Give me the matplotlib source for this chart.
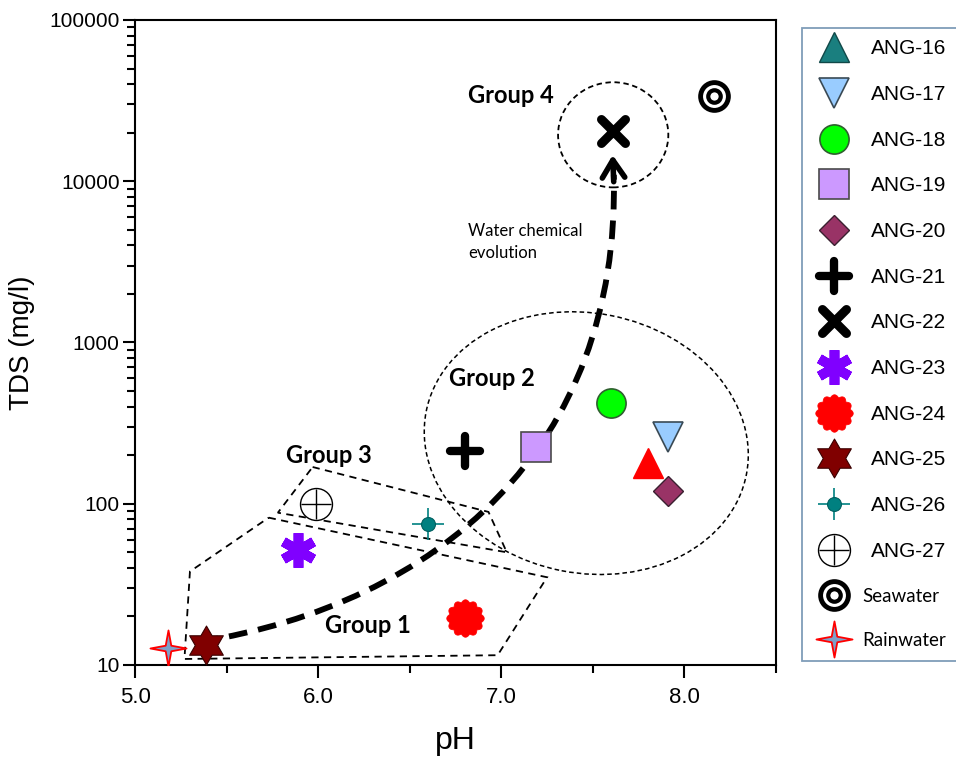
import numpy as np
import matplotlib
matplotlib.use("Agg")
import matplotlib.pyplot as plt
from matplotlib.lines import Line2D
from matplotlib.markers import MarkerStyle
from matplotlib.patches import Ellipse, Polygon, PathPatch
from matplotlib.path import Path
from matplotlib.ticker import FixedLocator, FuncFormatter, LogLocator, NullFormatter

plt.rcParams["font.family"] = ["Liberation Sans", "DejaVu Sans"]

# samples
samples = ["ANG-16", "ANG-17", "ANG-18", "ANG-19", "ANG-20", "ANG-21", "ANG-22",
           "ANG-23", "ANG-24", "ANG-25", "ANG-26", "ANG-27", "Seawater", "Rainwater"]
ph = [7.80, 7.91, 7.60, 7.19, 7.91, 6.80, 7.61, 5.89, 6.80, 5.39, 6.60, 5.99, 8.16, 5.18]
tds = [180, 260, 420, 225, 120, 212, 20400, 52, 19.5, 13.3, 75, 100, 34000, 12.7]

# group outlines (pH, TDS)
group1_ph = [5.73, 7.25, 6.98, 5.27, 5.30]
group1_tds = [82, 35, 11.5, 10.9, 38]
group3_ph = [5.97, 6.93, 7.03, 5.78]
group3_tds = [169, 89, 50, 88]

group_labels = ["Group 4", "Group 2", "Group 3", "Group 1"]
group_label_ph = [7.05, 6.95, 6.06, 6.27]
group_label_tds = [34000, 600, 198, 17.5]

# custom marker shapes
star6 = Path.unit_regular_star(6, innerCircle=0.577)
star4 = Path.unit_regular_star(4, innerCircle=0.22)
theta = np.linspace(0, 2 * np.pi, 241)
rad = 0.86 + 0.14 * np.abs(np.cos(6 * theta))
flower = Path(np.column_stack([rad * np.cos(theta), rad * np.sin(theta)]), closed=True)
plus_round = MarkerStyle("+", capstyle="round")
x_round = MarkerStyle("x", capstyle="round")
aster = MarkerStyle((6, 2, 0), capstyle="round")

styles = [
    [dict(marker="^", ms=22, mfc="#FF0000", mec="#FF0000", mew=1)],
    [dict(marker="v", ms=22, mfc="#99CCFF", mec="#3A4A55", mew=1.2)],
    [dict(marker="o", ms=21, mfc="#00FF00", mec="#2F5F2F", mew=1.2)],
    [dict(marker="s", ms=21, mfc="#CC99FF", mec="#4A4A4A", mew=1.2)],
    [dict(marker="D", ms=15, mfc="#993366", mec="#3A2030", mew=1)],
    [dict(marker=plus_round, ms=22, mec="black", mew=6)],
    [dict(marker=x_round, ms=17, mec="black", mew=6.5)],
    [dict(marker=aster, ms=25, mec="#8000FF", mew=7)],
    [dict(marker=flower, ms=27, mfc="#FF0000", mec="#FF0000", mew=0.5)],
    [dict(marker=star6, ms=28, mfc="#800000", mec="#3A0000", mew=0.8)],
    [dict(marker="+", ms=23, mec="#008080", mew=1.2),
     dict(marker="o", ms=10, mfc="#008080", mec="#006060", mew=0.8)],
    [dict(marker="o", ms=23, mfc="white", mec="black", mew=1),
     dict(marker="+", ms=22, mec="black", mew=1)],
    [dict(marker="o", ms=20, mfc="none", mec="black", mew=3.5),
     dict(marker="o", ms=9, mfc="none", mec="black", mew=3)],
    [dict(marker=star4, ms=26, mfc="#7F9FC8", mec="#FF0000", mew=1.3)],
]

fig = plt.figure(figsize=(9.56, 7.57), dpi=100)
ax = fig.add_axes([135 / 956, 92 / 757, 641 / 956, 645 / 757])

# group outlines
ax.add_patch(Polygon(np.column_stack([group1_ph, group1_tds]), closed=True, fill=False,
                     ec="black", lw=1.3, ls=(0, (4, 3))))
ax.add_patch(Polygon(np.column_stack([group3_ph, group3_tds]), closed=True, fill=False,
                     ec="black", lw=1.3, ls=(0, (4, 3))))
ax.add_patch(Ellipse((0.704, 0.344), 0.509, 0.403, angle=-11, transform=ax.transAxes,
                     fill=False, ec="black", lw=1.1, ls=(0, (3, 2))))
ax.add_patch(Ellipse((0.746, 0.822), 0.172, 0.163, transform=ax.transAxes,
                     fill=False, ec="black", lw=1.3, ls=(0, (3, 2))))

# evolution arrow
curve = Path([(0.101, 0.036), (0.470, 0.095), (0.757, 0.334), (0.747, 0.760)],
             [Path.MOVETO, Path.CURVE4, Path.CURVE4, Path.CURVE4])
ax.add_patch(PathPatch(curve, transform=ax.transAxes, fill=False, ec="black", lw=4.2,
                       ls=(0, (3.2, 1.9)), zorder=4))
ax.annotate("", xy=(0.745, 0.795), xytext=(0.747, 0.745), xycoords="axes fraction",
            arrowprops=dict(arrowstyle="->,head_length=0.7,head_width=0.45", lw=4,
                            color="black", mutation_scale=18), zorder=4)

handles = []
for name, x, y, st in zip(samples, ph, tds, styles):
    lines = [ax.plot([x], [y], ls="none", zorder=5, **p)[0] for p in st]
    handles.append(lines[0] if len(lines) == 1 else tuple(lines))

# legend shows ANG-16 in teal
handles[0] = Line2D([], [], ls="none", marker="^", ms=22, mfc="#1A7F7F", mec="#104848", mew=1)

for lab, x, y in zip(group_labels, group_label_ph, group_label_tds):
    ax.text(x, y, lab, fontsize=17, fontweight="bold", family="Lato",
            ha="center", va="center", zorder=6)
ax.text(6.82, 4200, "Water chemical\nevolution", fontsize=12, family="Lato",
        ha="left", va="center", linespacing=1.45)

ax.set_xlim(5, 8.5)
ax.set_yscale("log")
ax.set_ylim(10, 100000)
ax.xaxis.set_major_locator(FixedLocator([5, 6, 7, 8]))
ax.xaxis.set_minor_locator(FixedLocator([5.5, 6.5, 7.5, 8.5]))
ax.xaxis.set_major_formatter(FuncFormatter(lambda v, _: f"{v:.1f}"))
ax.yaxis.set_major_locator(LogLocator(base=10, numticks=10))
ax.yaxis.set_minor_locator(LogLocator(base=10, subs=np.arange(2, 10), numticks=10))
ax.yaxis.set_major_formatter(FuncFormatter(lambda v, _: f"{int(round(v))}"))
ax.yaxis.set_minor_formatter(NullFormatter())
ax.tick_params(axis="both", which="major", direction="out", length=9, width=1.5)
ax.tick_params(axis="both", which="minor", direction="out", length=6, width=1.5)
ax.tick_params(axis="x", labelsize=16, pad=7)
ax.tick_params(axis="y", labelsize=15, pad=2)
for s in ax.spines.values():
    s.set_linewidth(1.5)

ax.set_xlabel("pH", fontsize=23)
ax.set_ylabel("TDS (mg/l)", fontsize=20)
ax.xaxis.set_label_coords(0.5, -0.095)
ax.yaxis.set_label_coords(-0.156, 0.5)

leg = fig.legend(handles, samples, loc="upper left",
                 bbox_to_anchor=(802 / 956, 0, 0.22, 1 - 28 / 757), mode="expand",
                 borderaxespad=0, fontsize=15, labelspacing=1.28, handlelength=2.0,
                 handletextpad=0.75, borderpad=0.55, fancybox=False, framealpha=1)
leg.get_frame().set_edgecolor("#7F9DB9")
leg.get_frame().set_linewidth(1.3)
for t in leg.get_texts()[-2:]:
    t.set_family("Lato")
    t.set_fontsize(13.5)
    t.set_x(-8)

fig.savefig("out.png", dpi=100)
